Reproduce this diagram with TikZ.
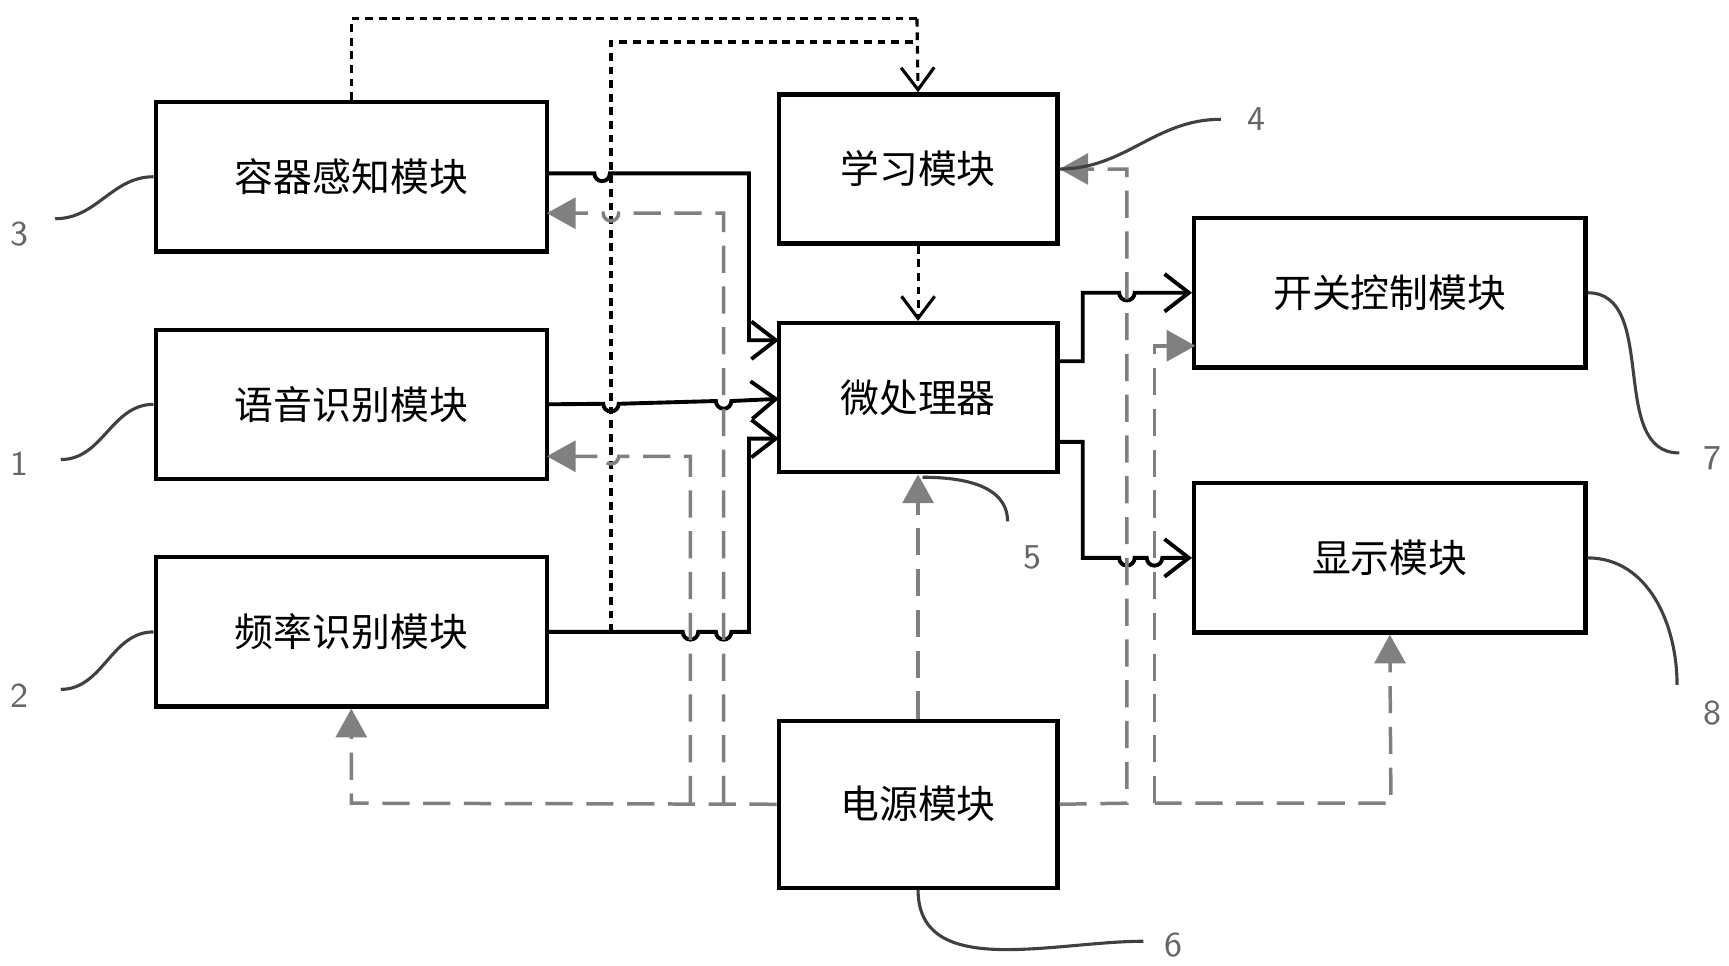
\documentclass[tikz,border=0pt]{standalone}
\usepackage{fontspec}
\newfontfamily\cjk{Noto Sans CJK SC}
\usetikzlibrary{arrows.meta}
\tikzset{
  box/.style={draw,line width=1.1pt,minimum width=3.54cm,minimum height=1.35cm,inner sep=0pt,font=\cjk\fontsize{10}{12}\selectfont},
  sbox/.style={box,minimum width=2.52cm},
  solid line/.style={line width=1pt,-{Straight Barb[length=2.2mm,width=3.4mm]}},
  dot line/.style={line width=0.8pt,dash pattern=on 2pt off 1.5pt},
  gray line/.style={line width=0.9pt,gray,dash pattern=on 7pt off 3.5pt},
  gtip/.style={-{Triangle[length=2.6mm,width=2.8mm]}},
  lead/.style={line width=0.8pt,black!75},
  num/.style={text=black!60,font=\sffamily\fontsize{9}{10}\selectfont}
}
\begin{document}
\begin{tikzpicture}[x=0.01cm,y=-0.01cm]
\useasboundingbox (0,0) rectangle (1565,874);
% modules
\node[box] (cont) at (318,160) {容器感知模块};
\node[box] (voice) at (318,366) {语音识别模块};
\node[box] (freq) at (318,572) {频率识别模块};
\node[sbox] (learn) at (831,153) {学习模块};
\node[sbox] (mcu) at (831,360) {微处理器};
\node[sbox,minimum height=1.51cm] (power) at (831,728) {电源模块};
\node[box] (switch) at (1258,265) {开关控制模块};
\node[box] (disp) at (1258,505) {显示模块};
% coordinates
\coordinate (m1) at (705,308);
\coordinate (m3) at (705,397);
\coordinate (mr1) at (957,327);
\coordinate (mr2) at (957,400);
% signal lines
\draw[solid line] (495,157) -- (538,157) arc[start angle=180,end angle=360,radius=0.07cm] -- (678,157) -- (678,308) -- (m1);
\draw[solid line] (495,366) -- (546,365.5) arc[start angle=180,end angle=360,radius=0.07cm] -- (648,363) arc[start angle=180,end angle=360,radius=0.07cm] -- (705,361);
\draw[solid line] (495,572) -- (618,572) arc[start angle=180,end angle=360,radius=0.07cm] -- (648,572) arc[start angle=180,end angle=360,radius=0.07cm] -- (678,572) -- (678,397) -- (m3);
\draw[solid line] (mr1) -- (980,327) -- (980,265) -- (1013,265) arc[start angle=180,end angle=360,radius=0.07cm] -- (switch.west);
\draw[solid line] (mr2) -- (980,400) -- (980,505) -- (1013,505) arc[start angle=180,end angle=360,radius=0.07cm] -- (1038,505) arc[start angle=180,end angle=360,radius=0.07cm] -- (disp.west);
% learning lines
\draw[dot line] (cont.north) -- (318,17) -- (830,17);
\draw[dot line] (553,572) -- (553,38) -- (830,38);
\draw[dot line,-{Straight Barb[length=2mm,width=3mm]}] (830,17) -- (learn.north);
\draw[dot line,-{Straight Barb[length=2mm,width=3mm]}] (learn.south) -- (mcu.north);
% power lines
\draw[gray line,gtip] (power.west) -- (318,727) -- (freq.south);
\draw[gray line,gtip] (655,727) -- (655,193) -- (560,193) arc[start angle=0,end angle=-180,radius=0.07cm] -- (495,193);
\draw[gray line,gtip] (625,727) -- (625,413) -- (560,413) arc[start angle=0,end angle=-180,radius=0.07cm] -- (495,413);
\draw[gray line,gtip] (power.north) -- (mcu.south);
\draw[gray line,gtip] (power.east) -- (1020,727) -- (1020,153) -- (learn.east);
\draw[gray line,gtip] (1045,727) -- (1045,313) -- (1082,313);
\draw[gray line,gtip] (1045,727) -- (1259,727) -- (disp.south);
% labels
\node[num] (n3) at (18,212) {3};
\node[num] (n1) at (18,420) {1};
\node[num] (n2) at (18,630) {2};
\node[num] (n4) at (1137,108) {4};
\node[num] (n5) at (935,505) {5};
\node[num] (n6) at (1062,855) {6};
\node[num] (n7) at (1550,415) {7};
\node[num] (n8) at (1550,645) {8};
\draw[lead] (50,198) to[out=0,in=180] (cont.west);
\draw[lead] (55,416) to[out=0,in=180] (voice.west);
\draw[lead] (55,624) to[out=0,in=180] (freq.west);
\draw[lead] (1105,108) to[out=180,in=0] (learn.east);
\draw[lead] (835,432) to[out=0,in=90] (912,472);
\draw[lead] (power.south) to[out=-90,in=180] (1035,852);
\draw[lead] (1520,410) to[out=180,in=0] (switch.east);
\draw[lead] (1518,620) to[out=90,in=0] (disp.east);
\end{tikzpicture}
\end{document}
